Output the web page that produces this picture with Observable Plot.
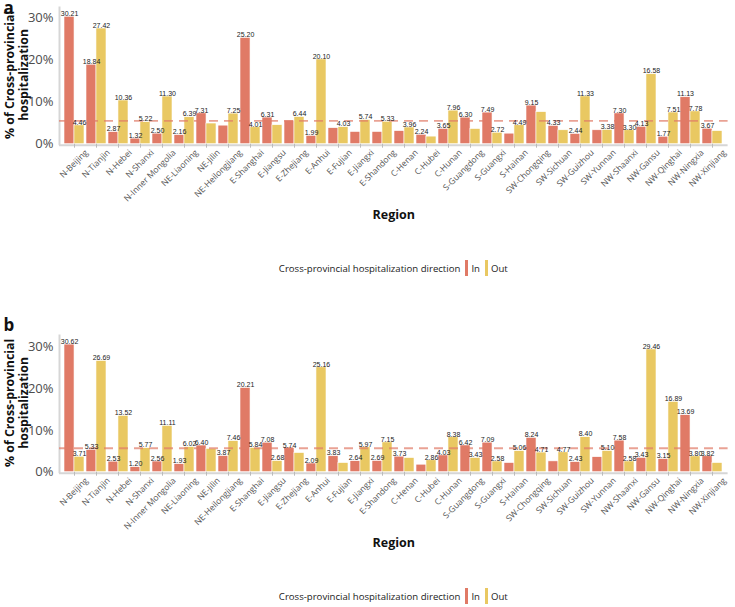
<!DOCTYPE html>
<html><head><meta charset="utf-8">
<script src="https://cdn.jsdelivr.net/npm/d3@7"></script>
<script src="https://cdn.jsdelivr.net/npm/@observablehq/plot@0.6"></script>
<style>
body{margin:0;background:#fff;font-family:"Open Sans",sans-serif;}
.panel{position:relative;width:735px;height:328px;}
.legend{position:absolute;top:258px;left:59px;width:668.6px;height:20px;display:flex;justify-content:center;align-items:center;font-size:9.6px;color:#222;}
.sw{display:inline-block;width:3px;height:16px;margin:0 3px 0 5px;}
</style></head><body>
<div id="a" class="panel"></div>
<div id="b" class="panel"></div>
<script>
const regions = ["N-Beijing","N-Tianjin","N-Hebei","N-Shanxi","N-Inner Mongolia","NE-Liaoning","NE-Jilin","NE-Heilongjiang","E-Shanghai","E-Jiangsu","E-Zhejiang","E-Anhui","E-Fujian","E-Jiangxi","E-Shandong","C-Henan","C-Hubei","C-Hunan","S-Guangdong","S-Guangxi","S-Hainan","SW-Chongqing","SW-Sichuan","SW-Guizhou","SW-Yunnan","NW-Shaanxi","NW-Gansu","NW-Qinghai","NW-Ningxia","NW-Xinjiang"];
const directions = ["In","Out"];
const colors = ["#E07A66","#E9C862"];
const yTicks = [0,10,20,30];

const inA  = [30.21,18.84,2.87,1.32,2.50,2.16,7.31,4.4,25.20,6.31,5.6,1.99,3.8,2.9,2.9,3.1,2.24,3.65,6.30,7.49,2.5,9.15,4.33,2.44,3.3,7.30,4.13,1.77,11.13,3.67];
const inLabA = [1,1,1,1,1,1,1,0,1,1,0,1,0,0,0,0,1,1,1,1,0,1,1,1,0,1,1,1,1,1];
const outA = [4.46,27.42,10.36,5.22,11.30,6.39,4.9,7.25,4.01,4.5,6.44,20.10,4.03,5.74,5.33,3.96,1.8,7.96,3.6,2.72,4.49,7.6,3.3,11.33,3.38,3.30,16.58,7.51,7.78,3.1];
const outLabA = [1,1,1,1,1,1,0,1,1,0,1,1,1,1,1,1,0,1,0,1,1,0,0,1,1,1,1,1,1,0];
const refA = 5.55;

const inB  = [30.62,5.33,2.53,1.20,2.56,1.93,6.40,3.87,20.21,7.08,5.74,2.09,3.83,2.64,2.69,3.73,1.8,4.03,6.42,7.09,2.2,8.24,2.6,2.43,3.6,7.58,3.43,3.15,13.69,3.82];
const inLabB = [1,1,1,1,1,1,1,1,1,1,1,1,1,1,1,1,0,1,1,1,0,1,0,1,0,1,1,1,1,1];
const outB = [3.71,26.69,13.52,5.77,11.11,6.02,5.6,7.46,5.84,2.68,4.6,25.16,2.2,5.97,7.15,3.4,2.86,8.38,3.43,2.58,5.06,4.71,4.77,8.40,5.10,2.58,29.46,16.89,3.80,2.2];
const outLabB = [1,1,1,1,1,1,0,1,1,1,0,1,0,1,1,0,1,1,1,1,1,1,1,1,1,1,1,1,1,0];
const refB = 5.75;

const W = 735, ML = 59, MR = 7.4, MT = 7, H = 232, MB = 88.3;
const PAD_INNER = 0.1, PAD_OUTER = 0.15;
const step = (W - ML - MR) / (regions.length - PAD_INNER + 2 * PAD_OUTER);
const half = step * (1 - PAD_INNER) / 2;

function panel(id, letter, letterDy, inV, inL, outV, outL, ref, ymax) {
  const rows = [];
  regions.forEach((r, i) => {
    rows.push({region: r, dir: "In", v: inV[i], lab: inL[i]});
    rows.push({region: r, dir: "Out", v: outV[i], lab: outL[i]});
  });
  const rowsIn = rows.filter(d => d.dir === "In");
  const rowsOut = rows.filter(d => d.dir === "Out");
  const p = Plot.plot({
    width: W, height: H,
    marginLeft: ML, marginRight: MR, marginTop: MT, marginBottom: MB,
    style: {fontFamily: "Open Sans", background: "transparent", overflow: "visible"},
    x: {domain: regions, paddingInner: PAD_INNER, paddingOuter: PAD_OUTER, label: null},
    y: {domain: [0, ymax], label: null},
    color: {domain: directions, range: colors},
    marks: [
      Plot.barY(rowsIn, {x: "region", y: "v", fill: "dir", insetRight: half, stroke: "#fff", strokeWidth: 0.6}),
      Plot.barY(rowsOut, {x: "region", y: "v", fill: "dir", insetLeft: half, stroke: "#fff", strokeWidth: 0.6}),
      Plot.frame({anchor: "left", stroke: "#d6d6d6", strokeWidth: 2}),
      Plot.ruleY([0], {stroke: "#d6d6d6", strokeWidth: 2, dy: 1}),
      Plot.ruleY([ref], {stroke: "#E07A66", strokeOpacity: 0.7, strokeWidth: 1.8, strokeDasharray: "9,6"}),
      Plot.text(rowsIn.filter(d => d.lab), {x: "region", y: "v", text: d => d.v.toFixed(2), dx: -half / 2, dy: -3, fontSize: 7, fontFamily: "Liberation Sans", fill: "#222"}),
      Plot.text(rowsOut.filter(d => d.lab), {x: "region", y: "v", text: d => d.v.toFixed(2), dx: half / 2, dy: -3, fontSize: 7, fontFamily: "Liberation Sans", fill: "#222"}),
      Plot.axisY({ticks: yTicks, tickFormat: d => d + "%", tickSize: 0, tickPadding: 6, fontSize: 13, color: "#4d4d4d", label: null}),
      Plot.axisX({tickSize: 4, color: "#bbb", tickFormat: () => "", label: null}),
      Plot.axisX({tickSize: 0, tickRotate: -45, fontSize: 8.5, fill: "#555", label: null, tickPadding: 2, dx: 12, dy: 5}),
      Plot.text([["% of Cross-provincial\nhospitalization"]], {text: d => d[0], frameAnchor: "left", textAnchor: "middle", lineAnchor: "middle", rotate: -90, dx: -43, dy: -1, fontSize: 12.3, fontWeight: "bold", lineHeight: 1.15, fill: "#111"}),
      Plot.text([[letter]], {text: d => d[0], frameAnchor: "top-left", textAnchor: "start", lineAnchor: "top", dx: -56, dy: letterDy, fontSize: 17, fontWeight: "bold", fill: "#111"}),
      Plot.text([["Region"]], {text: d => d[0], frameAnchor: "bottom", dy: 74.3, fontSize: 12.5, fontWeight: "bold", fill: "#111"})
    ]
  });
  const host = document.getElementById(id);
  host.appendChild(p);
  const lg = document.createElement("div");
  lg.className = "legend";
  lg.innerHTML = `<span>Cross-provincial hospitalization direction</span>` +
    directions.map((d, i) => `<span class="sw" style="background:${colors[i]}"></span><span>${d}</span>`).join("");
  host.appendChild(lg);
}
panel("a", "a", -6, inA, inLabA, outA, outLabA, refA, 32.4);
panel("b", "b", -17, inB, inLabB, outB, outLabB, refB, 32.8);
</script>
</body></html>
